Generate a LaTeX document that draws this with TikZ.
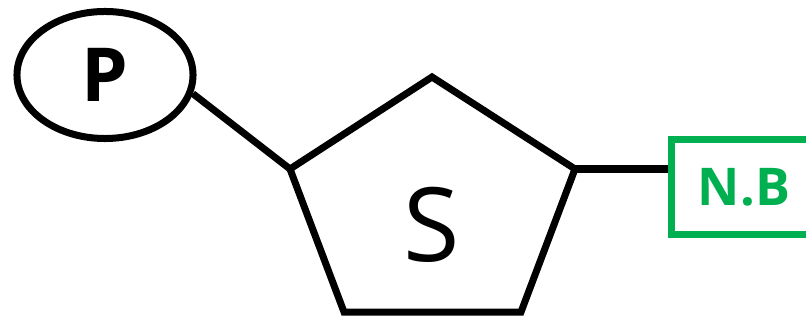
\documentclass[tikz,border=0pt]{standalone}
\usepackage{fontspec}
\setmainfont{Open Sans}
\usepackage{tikz}
\usetikzlibrary{shapes.geometric,calc}
\definecolor{basegreen}{HTML}{00B050}
\tikzset{
  bond/.style={draw=black, line width=0.175cm, line join=miter},
  phosbox/.style={ellipse, draw=black, line width=0.175cm, minimum width=4.4cm, minimum height=3.175cm,
                  inner sep=0pt, font=\fontsize{53}{60}\selectfont\bfseries},
  basebox/.style={rectangle, draw=basegreen, line width=0.175cm, minimum width=3.6cm, minimum height=2.375cm,
                  inner sep=0pt, text=basegreen, font=\fontsize{37}{44}\selectfont\bfseries},
  sugarlbl/.style={inner sep=0pt, font=\fontsize{73}{80}\selectfont},
}

\begin{document}
\begin{tikzpicture}[x=0.025cm, y=-0.025cm]
\useasboundingbox (0,0) rectangle (806,320);
\clip (0,0) rectangle (806,320);

% sugar ring
\coordinate (c1) at (432,77);
\coordinate (c2) at (575,169);
\coordinate (c3) at (521,312);
\coordinate (c4) at (344,312);
\coordinate (c5) at (290,169);
\draw[bond] (c1) -- (c2) -- (c3) -- (c4) -- (c5) -- cycle;
\node[sugarlbl] (sugar) at (432,225) {S};

\node[phosbox] (phos) at (105,75) {P};
\node[basebox] (base) at (744,187) {N.B};

\draw[bond] (phos.-12) -- (c5);
\draw[bond] (c2) -- (c2 -| base.west);
\end{tikzpicture}
\end{document}
